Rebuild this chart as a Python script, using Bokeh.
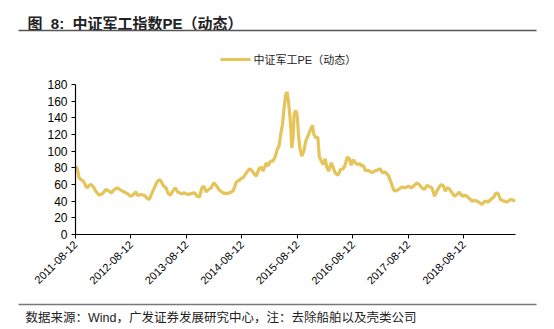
import math
from bokeh.plotting import figure
from bokeh.layouts import column
from bokeh.models import FixedTicker, Range1d
from bokeh.core.properties import value
from bokeh.embed import file_html
from bokeh.resources import INLINE

# ---- data (decimal years, PE values) ----
t_year = [
    2011.615, 2011.646, 2011.676, 2011.706, 2011.754, 2011.796, 2011.826, 2011.856, 2011.887, 2011.935,
    2011.977, 2012.037, 2012.098, 2012.158, 2012.218, 2012.260, 2012.309, 2012.369, 2012.429, 2012.489,
    2012.550, 2012.598, 2012.640, 2012.700, 2012.731, 2012.791, 2012.851, 2012.911, 2012.941, 2012.972,
    2013.032, 2013.080, 2013.122, 2013.152, 2013.200, 2013.243, 2013.273, 2013.321, 2013.363, 2013.406,
    2013.454, 2013.514, 2013.574, 2013.635, 2013.695, 2013.755, 2013.803, 2013.846, 2013.888, 2013.924,
    2013.966, 2014.008, 2014.057, 2014.105, 2014.147, 2014.207, 2014.268, 2014.328, 2014.388, 2014.448,
    2014.479, 2014.509, 2014.557, 2014.599, 2014.641, 2014.690, 2014.750, 2014.798, 2014.840, 2014.870,
    2014.919, 2014.961, 2014.991, 2015.051, 2015.081, 2015.124, 2015.172, 2015.220, 2015.244, 2015.280,
    2015.310, 2015.341, 2015.371, 2015.401, 2015.425, 2015.449, 2015.473, 2015.497, 2015.509, 2015.533,
    2015.551, 2015.576, 2015.606, 2015.630, 2015.654, 2015.690, 2015.726, 2015.762, 2015.805, 2015.847,
    2015.883, 2015.907, 2015.943, 2015.979, 2016.004, 2016.040, 2016.076, 2016.112, 2016.136, 2016.172,
    2016.221, 2016.257, 2016.293, 2016.341, 2016.389, 2016.438, 2016.474, 2016.510, 2016.546, 2016.582,
    2016.618, 2016.655, 2016.691, 2016.739, 2016.775, 2016.799, 2016.835, 2016.890, 2016.950, 2016.998,
    2017.040, 2017.101, 2017.143, 2017.191, 2017.251, 2017.300, 2017.342, 2017.372, 2017.432, 2017.492,
    2017.553, 2017.613, 2017.661, 2017.703, 2017.764, 2017.806, 2017.854, 2017.902, 2017.945, 2017.975,
    2018.035, 2018.083, 2018.125, 2018.168, 2018.204, 2018.246, 2018.276, 2018.312, 2018.348, 2018.397,
    2018.445, 2018.487, 2018.529, 2018.577, 2018.638, 2018.698, 2018.758, 2018.818, 2018.878, 2018.939,
    2018.987, 2019.048, 2019.096, 2019.150, 2019.192, 2019.228, 2019.271, 2019.331, 2019.391, 2019.451,
    2019.512, 2019.542,
]
pe = [
    82, 78, 68, 66, 64, 58, 56, 59, 60, 57,
    52, 47, 49, 54, 52, 50, 54, 56, 53, 51,
    49, 46, 47, 51, 47, 48, 47, 43, 42, 47,
    56, 63, 66, 64, 58, 56, 50, 47, 52, 56,
    51, 49, 50, 48, 49, 50, 46, 45, 56, 58,
    51, 54, 56, 62, 59, 53, 50, 49, 50, 52,
    57, 63, 65, 67, 69, 74, 79, 76, 72, 70,
    79, 81, 76, 86, 82, 88, 88, 95, 102, 106,
    120, 132, 152, 168, 171, 160, 144, 124, 104, 116,
    144, 149, 144, 120, 104, 94, 100, 112, 119, 126,
    131, 120, 116, 117, 94, 88, 84, 91, 82, 76,
    86, 80, 74, 71, 78, 79, 84, 93, 91, 83,
    90, 86, 84, 85, 82, 83, 77, 77, 74, 76,
    77, 79, 74, 75, 71, 62, 54, 52, 54, 57,
    56, 58, 56, 58, 62, 60, 56, 54, 59, 58,
    56, 46, 52, 57, 60, 58, 52, 56, 55, 50,
    46, 48, 51, 46, 47, 44, 40, 41, 39, 36,
    40, 39, 42, 45, 50, 49, 42, 40, 39, 42,
    41, 40,
]
tick_pos = [2011.611, 2012.611, 2013.611, 2014.611, 2015.611, 2016.611, 2017.611, 2018.611]
tick_labels = ["2011-08-12", "2012-08-12", "2013-08-12", "2014-08-12",
               "2015-08-12", "2016-08-12", "2017-08-12", "2018-08-12"]
y_ticks = [0, 20, 40, 60, 80, 100, 120, 140, 160, 180]

title_text = "图\u00a0\u00a08:\u00a0\u00a0中证军工指数PE（动态）"
series_name = "中证军工PE（动态）"
source_text = "数据来源：Wind，广发证券发展研究中心，注：去除船舶以及壳类公司"

LINE_COLOR = "#E5C45A"
FONT = "Liberation Sans, Noto Sans CJK SC"

W = 554
TOP_H = 70
BOT_H = 35
MAIN_H = 329 - TOP_H - BOT_H


def blank(height, y_top):
    f = figure(width=W, height=height, output_backend="svg", toolbar_location=None,
               x_range=Range1d(0, W), y_range=Range1d(y_top + height, y_top),
               x_axis_type=None, y_axis_type=None,
               min_border=0, min_border_left=0, min_border_right=0,
               min_border_top=0, min_border_bottom=0, frame_align=False)
    f.outline_line_color = None
    f.grid.grid_line_color = None
    f.background_fill_color = "white"
    f.border_fill_color = "white"
    return f


# ---- header: title, rule, legend ----
top = blank(TOP_H, 0)
top.text(x=[27], y=[23], text=[title_text], text_font=value(FONT), text_font_size="15px",
         text_font_style="bold", text_color="#222222", text_baseline="alphabetic")
top.segment(x0=[18], y0=[30], x1=[536], y1=[30], line_color="#555555", line_width=1.5)
top.segment(x0=[220], y0=[59], x1=[250], y1=[59], line_color=LINE_COLOR, line_width=3.2)
top.text(x=[253], y=[59], text=[series_name], text_font=value(FONT), text_font_size="11px",
         text_color="#222222", text_baseline="middle")

# ---- main chart ----
p = figure(width=W, height=MAIN_H, output_backend="svg", toolbar_location=None,
           min_border_left=75, min_border_right=39, min_border_top=84 - TOP_H,
           min_border_bottom=(TOP_H + MAIN_H) - 234, frame_align=False,
           x_range=Range1d(tick_pos[0], t_year[-1]), y_range=Range1d(0, 180))
p.outline_line_color = None
p.grid.grid_line_color = None
p.background_fill_color = "white"
p.border_fill_color = "white"

p.line(t_year, pe, line_color=LINE_COLOR, line_width=3.2)

p.xaxis.ticker = FixedTicker(ticks=tick_pos)
p.xaxis.major_label_overrides = {tp: lab for tp, lab in zip(tick_pos, tick_labels)}
p.xaxis.major_label_orientation = math.pi / 4
p.xaxis.minor_tick_line_color = None
p.yaxis.ticker = FixedTicker(ticks=y_ticks)
p.yaxis.minor_tick_line_color = None
for ax in (p.xaxis[0], p.yaxis[0]):
    ax.axis_line_color = "black"
    ax.axis_line_width = 1.2
    ax.major_tick_line_color = "black"
    ax.major_tick_in = 0
    ax.major_tick_out = 4
    ax.major_label_text_font = FONT
    ax.major_label_text_color = "black"
p.xaxis.major_label_text_font_size = "11px"
p.yaxis.major_label_text_font_size = "12px"
p.yaxis.major_label_standoff = 4
p.xaxis.major_label_standoff = 4

# ---- footer: rule and source ----
bot = blank(BOT_H, 329 - BOT_H)
bot.segment(x0=[18], y0=[304], x1=[536], y1=[304], line_color="#777777", line_width=1.5)
bot.text(x=[25], y=[317], text=[source_text], text_font=value(FONT), text_font_size="12.5px",
         text_color="#222222", text_baseline="middle")

layout = column(top, p, bot, spacing=0)
open("out.html", "w").write(file_html(layout, INLINE))
